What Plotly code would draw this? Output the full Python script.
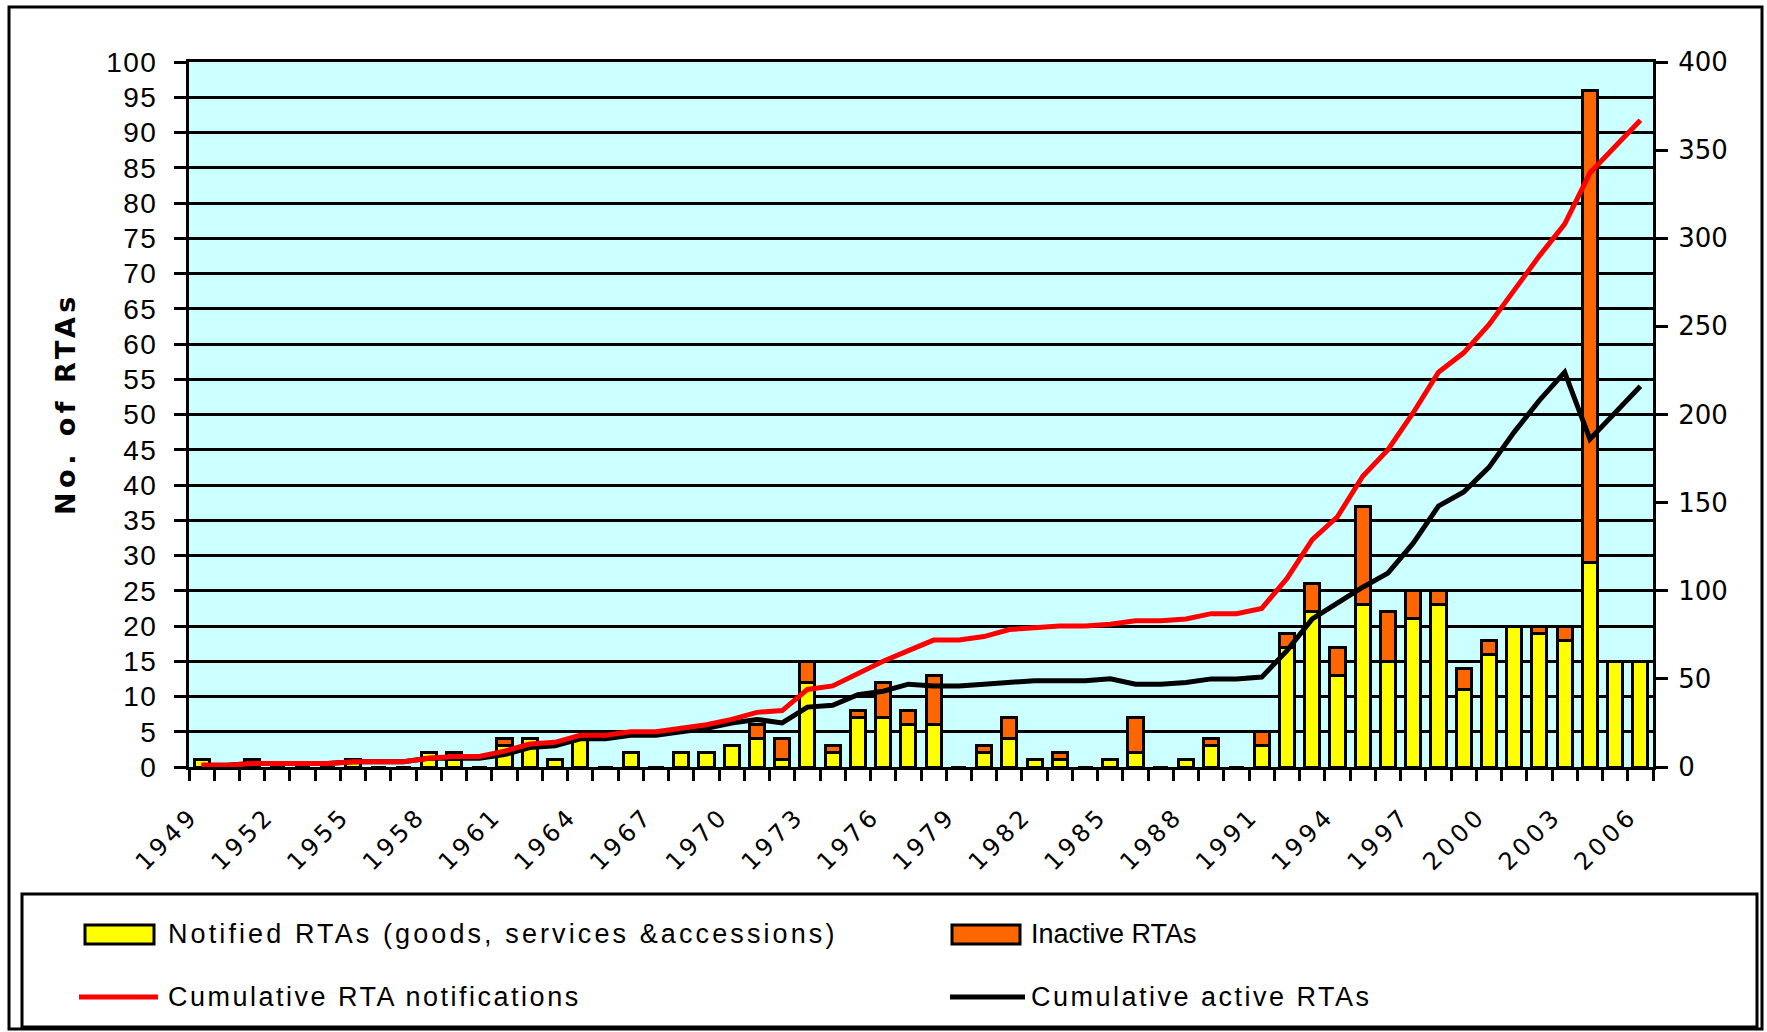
import plotly.graph_objects as go

# ---------------- data ----------------
years = list(range(1949, 2007))
notified = [1, 0, 1, 0, 0, 0, 1, 0, 0, 2,
            1, 0, 3, 4, 1, 4, 0, 2, 0, 2,
            2, 3, 4, 1, 12, 2, 7, 7, 6, 6,
            0, 2, 4, 1, 1, 0, 1, 2, 0, 1,
            3, 0, 3, 17, 22, 13, 23, 15, 21, 23,
            11, 16, 20, 19, 18, 29, 15, 15]
inactive = [0, 0, 0, 0, 0, 0, 0, 0, 0, 0,
            1, 0, 1, 0, 0, 0, 0, 0, 0, 0,
            0, 0, 2, 3, 3, 1, 1, 5, 2, 7,
            0, 1, 3, 0, 1, 0, 0, 5, 0, 0,
            1, 0, 2, 2, 4, 4, 14, 7, 4, 2,
            3, 2, 0, 1, 2, 67, 0, 0]
cum_notifications = [1, 1, 2, 2, 2, 2, 3, 3, 3, 5,
                     6, 6, 9, 13, 14, 18, 18, 20, 20, 22,
                     24, 27, 31, 32, 44, 46, 53, 60, 66, 72,
                     72, 74, 78, 79, 80, 80, 81, 83, 83, 84,
                     87, 87, 90, 107, 129, 142, 165, 180, 201, 224,
                     235, 251, 271, 290, 308, 337, 352, 367]
cum_active = [1, 1, 2, 2, 2, 2, 3, 3, 3, 5,
              5, 5, 7, 11, 12, 16, 16, 18, 18, 20,
              22, 25, 27, 25, 34, 35, 41, 43, 47, 46,
              46, 47, 48, 49, 49, 49, 50, 47, 47, 48,
              50, 50, 51, 66, 84, 93, 102, 110, 127, 148,
              156, 170, 190, 208, 224, 186, 201, 216]
tick_years = list(range(1949, 2007, 3))
tick_labels = [str(y) for y in tick_years]
left_ticks = list(range(0, 101, 5))
right_ticks = list(range(0, 401, 50))

legend_labels = ["Notified RTAs (goods, services &accessions)", "Inactive RTAs",
                 "Cumulative RTA notifications", "Cumulative active RTAs"]
y_title = "No. of RTAs"

# ---------------- layout geometry ----------------
W, H = 1767, 1032
L, R, T, B = 189, 1653, 62, 767
PW, PH = R - L, B - T


def px(x):
    return (x - L) / PW


def py(y):
    return (B - y) / PH


def spaced(text, sp):
    return f'<span style="letter-spacing:{sp}px">{text}</span>'


YELLOW = "#FFFF00"
ORANGE = "#FF6600"
RED = "#FF0000"
BG = "#CCFFFF"
FONT = "Liberation Sans"

fig = go.Figure()
fig.add_trace(go.Bar(x=years, y=notified, name=legend_labels[0],
                     marker=dict(color=YELLOW, line=dict(color="black", width=3))))
fig.add_trace(go.Bar(x=years, y=inactive, name=legend_labels[1],
                     marker=dict(color=ORANGE, line=dict(color="black", width=3))))
fig.add_trace(go.Scatter(x=years, y=cum_active, name=legend_labels[3], yaxis="y2",
                         mode="lines", line=dict(color="black", width=5)))
fig.add_trace(go.Scatter(x=years, y=cum_notifications, name=legend_labels[2], yaxis="y2",
                         mode="lines", line=dict(color=RED, width=5)))

fig.update_layout(
    width=W, height=H,
    margin=dict(l=L, r=W - R, t=T, b=H - B, pad=0),
    paper_bgcolor="white", plot_bgcolor=BG,
    barmode="stack", bargap=0.4,
    showlegend=False,
    font=dict(family=FONT, color="black", size=26),
    xaxis=dict(
        range=[1948.5, 2006.5], tickmode="array", tickvals=tick_years,
        ticktext=[spaced(t, 4) for t in tick_labels],
        tickangle=-45, ticks="", showgrid=False, zeroline=False,
        showline=True, mirror=True, linecolor="black", linewidth=3,
        tickfont=dict(family="DejaVu Sans", size=24), ticklabelstandoff=22,
        ticklabelshift=-10,
        minor=dict(tickmode="linear", tick0=1948.5, dtick=1, ticks="outside",
                   ticklen=11, tickwidth=3, tickcolor="black", showgrid=False),
    ),
    yaxis=dict(
        range=[0, 100], tickmode="array", tickvals=left_ticks,
        ticktext=[spaced(str(v), 1.5) for v in left_ticks],
        ticks="outside", ticklen=12, tickwidth=3, tickcolor="black",
        showgrid=True, gridcolor="black", gridwidth=3, zeroline=False,
        showline=True, linecolor="black", linewidth=3,
        tickfont=dict(family=FONT, size=28), ticklabelstandoff=11,
    ),
    yaxis2=dict(
        range=[0, 400], tickmode="array", tickvals=right_ticks, overlaying="y", side="right",
        ticks="outside", ticklen=12, tickwidth=3, tickcolor="black",
        showgrid=False, zeroline=False,
        showline=True, linecolor="black", linewidth=3,
        tickfont=dict(family="DejaVu Sans", size=26), ticklabelstandoff=5,
    ),
)

# y-axis title
fig.add_annotation(text="<b>" + spaced(y_title, 4.5) + "</b>", xref="paper", yref="paper",
                   x=px(65), y=py(404), textangle=-90, showarrow=False,
                   xanchor="center", yanchor="middle",
                   font=dict(family="DejaVu Sans", size=27, color="black"))

shapes = []
# outer border
shapes.append(dict(type="rect", xref="paper", yref="paper", x0=px(9), x1=px(1762),
                   y0=py(7), y1=py(1029), line=dict(color="black", width=3),
                   fillcolor="rgba(0,0,0,0)", layer="above"))
# legend box
shapes.append(dict(type="rect", xref="paper", yref="paper", x0=px(22), x1=px(1757),
                   y0=py(894), y1=py(1027), line=dict(color="black", width=3),
                   fillcolor="rgba(0,0,0,0)", layer="above"))
# legend symbols
shapes.append(dict(type="rect", xref="paper", yref="paper", x0=px(85), x1=px(154),
                   y0=py(925), y1=py(944), line=dict(color="black", width=3),
                   fillcolor=YELLOW, layer="above"))
shapes.append(dict(type="rect", xref="paper", yref="paper", x0=px(952), x1=px(1020),
                   y0=py(925), y1=py(944), line=dict(color="black", width=3),
                   fillcolor=ORANGE, layer="above"))
shapes.append(dict(type="line", xref="paper", yref="paper", x0=px(79), x1=px(158),
                   y0=py(997), y1=py(997), line=dict(color=RED, width=5), layer="above"))
shapes.append(dict(type="line", xref="paper", yref="paper", x0=px(950), x1=px(1025),
                   y0=py(997), y1=py(997), line=dict(color="black", width=5), layer="above"))
fig.update_layout(shapes=shapes)

legend_pos = [(166, 934), (1029, 934), (166, 997), (1029, 997)]
legend_spacing = [3.1, 0, 2.5, 2.5]
for label, (lx, ly), sp in zip(legend_labels, legend_pos, legend_spacing):
    fig.add_annotation(text=spaced(label, sp), xref="paper", yref="paper", x=px(lx), y=py(ly),
                       xanchor="left", yanchor="middle", showarrow=False,
                       font=dict(family=FONT, size=27, color="black"))

fig.write_html("out.html",
               config={"displayModeBar": False},
               post_script="document.body.style.margin='0px';"
                           "document.documentElement.style.overflow='hidden';")
